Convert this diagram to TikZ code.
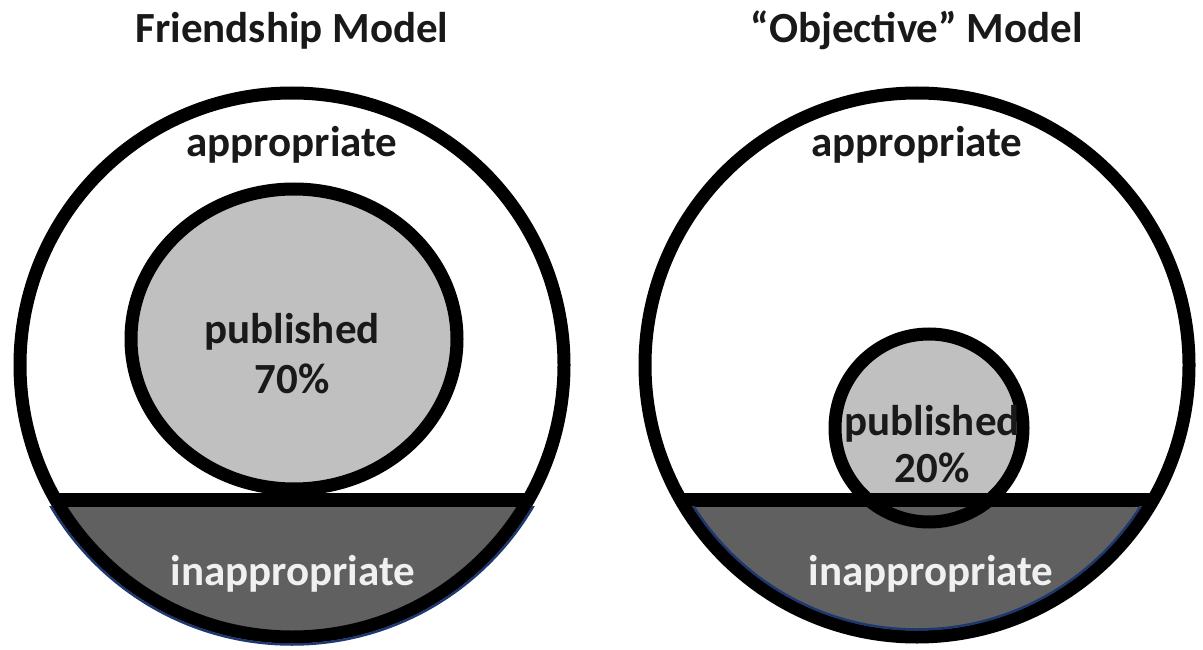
\documentclass[tikz,border=0pt]{standalone}
\usepackage{fontspec}
\setmainfont{Carlito}
\definecolor{pubgray}{RGB}{192,192,192}
\definecolor{badgray}{RGB}{96,96,96}
\definecolor{rimblue}{RGB}{30,55,110}
\definecolor{inktext}{RGB}{25,25,25}
\begin{document}
\begin{tikzpicture}[x=1pt,y=-1pt,
  ring/.style={draw=black,line width=13pt},
  divider/.style={draw=black,line width=14pt},
  lbl/.style={anchor=base,inner sep=0pt,text=inktext,
    font=\fontsize{43}{50}\selectfont\bfseries},
  lbllight/.style={lbl,text=white!94!black}]
\useasboundingbox (0,0) rectangle (1203,650);
\fill[white] (0,0) rectangle (1203,650);

% ---- left: friendship model ----
\coordinate (L) at (292,365);
\coordinate (Lp) at (294,339);
\fill[white] (L) circle[radius=272pt];
\begin{scope}
  \clip (L) circle[radius=272pt];
  \fill[badgray] (0,500) rectangle (600,660);
  \draw[divider] (0,500) -- (600,500);
\end{scope}
\filldraw[fill=pubgray,draw=black,line width=13pt] (Lp) ellipse[x radius=163pt,y radius=150pt];
\draw[ring] (L) circle[radius=272pt];
\begin{scope}
  \clip (0,506) rectangle (600,660);
  \draw[rimblue,line width=2.5pt] (L) circle[radius=279.5pt];
\end{scope}

% ---- right: objective model ----
\coordinate (R) at (917,365);
\coordinate (Rp) at (929,428);
\fill[white] (R) circle[radius=272pt];
\fill[pubgray] (Rp) circle[radius=94pt];
\begin{scope}
  \clip (R) circle[radius=272pt];
  \fill[badgray] (600,500) rectangle (1203,660);
\end{scope}
\draw[ring] (Rp) circle[radius=94pt];
\begin{scope}
  \clip (R) circle[radius=272pt];
  \draw[divider] (600,500) -- (1203,500);
\end{scope}
\draw[ring] (R) circle[radius=272pt];
\begin{scope}
  \clip (600,506) rectangle (1203,660);
  \draw[rimblue,line width=2.5pt] (R) circle[radius=264.5pt];
\end{scope}

% ---- labels ----
\node[lbl] (t1) at (292,43) {Friendship Model};
\node[lbl] (t2) at (917,43) {“Objective” Model};
\node[lbl] (a1) at (292,157) {appropriate};
\node[lbl] (a2) at (917,157) {appropriate};
\node[lbl] (p1) at (292,343) {published};
\node[lbl] (n1) at (292,393) {70\%};
\node[lbl] (p2) at (932,435) {published};
\node[lbl] (n2) at (932,482) {20\%};
\node[lbllight] (i1) at (293,585) {inappropriate};
\node[lbllight] (i2) at (931,585) {inappropriate};
\end{tikzpicture}
\end{document}
